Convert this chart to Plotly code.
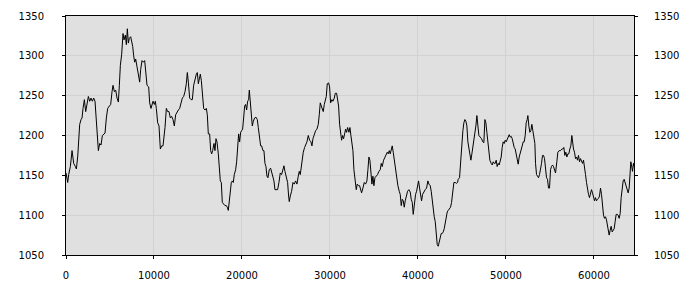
import plotly.graph_objects as go

positions = [
    0, 193, 307, 496, 686, 875, 1064, 1178, 1330, 1443, 1557, 1708, 1822, 1935, 2087, 2238, 2390, 2541, 2693, 2844,
    2996, 3147, 3299, 3450, 3564, 3677, 3829, 3980, 4132, 4283, 4435, 4586, 4738, 4927, 5079, 5230, 5344, 5495, 5647,
    5798, 5950, 6063, 6177, 6328, 6480, 6593, 6745, 6859, 6972, 7086, 7199, 7351, 7464, 7578, 7692, 7805, 7919, 8033,
    8146, 8260, 8373, 8487, 8638, 8790, 8941, 9055, 9206, 9396, 9509, 9661, 9774, 9888, 10040, 10153, 10267, 10418,
    10570, 10721, 10873, 11024,
    11251, 11402, 11554, 11705, 11857, 12008, 12160, 12311, 12463, 12614, 12766, 12917, 13068, 13220, 13371, 13523,
    13674, 13788, 13902, 14053, 14205, 14356, 14508, 14659, 14810, 14924, 15038, 15151, 15265, 15379, 15492, 15644,
    15795, 15947, 16060, 16174, 16325, 16439, 16553, 16666, 16818, 16931, 17045, 17158, 17310, 17423, 17537, 17651,
    17764, 17916, 18067, 18219, 18332, 18446, 18560, 18673, 18787, 18900, 19014, 19128, 19279, 19393, 19506, 19620,
    19734, 19847, 19961, 20074, 20188, 20302, 20415, 20529, 20642, 20756, 20832, 20945, 21059, 21173, 21286, 21438,
    21589, 21741, 21854, 22006, 22119, 22233,
    22383, 22496, 22610, 22724, 22837, 22951, 23102, 23254, 23367, 23519, 23632, 23746, 23898, 24049, 24200, 24352,
    24503, 24655, 24768, 24882, 25034, 25185, 25299, 25374, 25488, 25640, 25791, 25942, 26094, 26245, 26397, 26510,
    26624, 26738, 26851, 26965, 27116, 27268, 27382, 27533, 27685, 27836, 27950, 28063, 28215, 28366, 28518, 28669,
    28783, 28896, 29010, 29124, 29237, 29351, 29464, 29578, 29692, 29843, 29957, 30070, 30222, 30335, 30487, 30601,
    30752, 30866, 30979, 31093, 31206, 31320, 31434, 31547, 31661, 31774, 31888, 32002, 32153, 32267, 32380, 32494,
    32608, 32721, 32873, 32986, 33100, 33251, 33365,
    33478, 33591, 33743, 33894, 34046, 34197, 34311, 34425, 34538, 34652, 34765, 34879, 34993, 35106, 35258, 35409,
    35561, 35712, 35826, 35939, 36091, 36242, 36394, 36507, 36621, 36735, 36848, 36962, 37075, 37189, 37303, 37416,
    37568, 37719, 37871, 37984, 38098, 38212, 38325, 38439, 38552, 38666, 38818, 38969, 39120, 39234, 39348, 39461,
    39575, 39726, 39840, 39954, 40067, 40181, 40294, 40408, 40522, 40673, 40824, 40976, 41127, 41241, 41393, 41506,
    41620, 41733, 41847, 41961, 42074, 42188, 42302, 42415, 42529, 42642, 42756, 42870, 42983, 43097, 43210, 43324,
    43438, 43589, 43703, 43816, 43930, 44081, 44233, 44384, 44498,
    44573, 44724, 44838, 44952, 45103, 45217, 45330, 45444, 45558, 45671, 45785, 45898, 46012, 46126, 46239, 46353,
    46466, 46580, 46694, 46807, 46921, 47072, 47224, 47375, 47489, 47603, 47716, 47830, 47943, 48057, 48171, 48322,
    48436, 48549, 48663, 48777, 48890, 49004, 49117, 49231, 49345, 49458, 49572, 49685, 49799, 49913, 50026, 50140,
    50253, 50367, 50481, 50594, 50708, 50822, 50935, 51049, 51162, 51276, 51390, 51503, 51617, 51730, 51844, 51958,
    52071, 52185, 52298, 52412, 52488, 52601, 52715, 52829, 52942, 53056, 53169, 53283, 53359, 53472, 53586, 53700,
    53813, 53927, 54040, 54154, 54268, 54381, 54495, 54608, 54722, 54836, 54949, 55063, 55176, 55290, 55404, 55517,
    55631,
    55782, 55895, 56047, 56198, 56350, 56463, 56577, 56691, 56804, 56918, 57032, 57145, 57259, 57372, 57486, 57562,
    57675, 57789, 57903, 58016, 58130, 58243, 58357, 58471, 58584, 58698, 58811, 58925, 59039, 59152, 59266, 59379,
    59493, 59607, 59720, 59834, 59948, 60061, 60175, 60288, 60402, 60516, 60629, 60743, 60856, 60970, 61084, 61197,
    61311, 61424, 61538, 61652, 61727, 61841, 61955, 62068, 62182, 62295, 62409, 62523, 62636, 62750, 62864, 62977,
    63091, 63204, 63318, 63432, 63545, 63659, 63773, 63886, 64000, 64113, 64189, 64265, 64378, 64492, 64540,
]

levels = [
    1153, 1141, 1151, 1161, 1181, 1165, 1161, 1158, 1173, 1198, 1214, 1220, 1222, 1234, 1245, 1230, 1239, 1249, 1243, 1247,
    1243, 1247, 1243, 1218, 1208, 1181, 1190, 1188, 1200, 1202, 1203, 1222, 1234, 1237, 1239, 1255, 1263, 1255, 1257,
    1247, 1242, 1263, 1288, 1302, 1328, 1320, 1326, 1314, 1334, 1316, 1322, 1324, 1318, 1312, 1300, 1292, 1296, 1288,
    1279, 1271, 1267, 1283, 1294, 1292, 1294, 1281, 1263, 1261, 1241, 1234, 1239, 1243, 1239, 1243, 1234, 1216,
    1212, 1183, 1187, 1187,
    1210, 1234, 1230, 1230, 1222, 1224, 1220, 1212, 1226, 1230, 1232, 1234, 1243, 1247, 1249, 1255,
    1265, 1279, 1267, 1247, 1245, 1245, 1263, 1271, 1277, 1279, 1265, 1271, 1277, 1269, 1255, 1234,
    1232, 1234, 1226, 1202, 1202, 1181, 1177, 1181, 1190, 1181, 1196, 1192, 1177, 1161, 1143, 1141,
    1116, 1114, 1112, 1112, 1110, 1106, 1120, 1130, 1141, 1143, 1141, 1151, 1157, 1167, 1181, 1202,
    1192, 1204, 1206, 1208, 1222, 1237, 1239, 1232, 1243, 1245, 1257, 1239, 1222, 1212, 1218, 1222,
    1223, 1220, 1210, 1198, 1187, 1187,
    1181, 1181, 1165, 1161, 1149, 1147, 1157, 1159, 1153, 1149, 1143, 1132, 1132, 1132, 1141, 1153,
    1151, 1159, 1162, 1155, 1149, 1141, 1124, 1117, 1124, 1130, 1141, 1139, 1143, 1139, 1149, 1155,
    1151, 1161, 1173, 1179, 1185, 1190, 1192, 1200, 1194, 1192, 1187, 1196, 1202, 1206, 1208, 1214,
    1226, 1241, 1237, 1234, 1230, 1239, 1245, 1249, 1265, 1266, 1261, 1241, 1245, 1243, 1247, 1253,
    1253, 1247, 1237, 1214, 1202, 1194, 1200, 1196, 1202, 1208, 1204, 1210, 1204, 1210, 1200, 1190,
    1181, 1157, 1145, 1132, 1139, 1137, 1137,
    1132, 1128, 1134, 1141, 1139, 1143, 1157, 1173, 1169, 1149, 1139, 1149, 1137, 1147, 1149, 1151,
    1155, 1157, 1165, 1161, 1169, 1173, 1175, 1179, 1177, 1181, 1177, 1183, 1187, 1179, 1169, 1161,
    1143, 1137, 1130, 1126, 1112, 1120, 1118, 1110, 1118, 1124, 1130, 1132, 1129, 1120, 1116, 1101,
    1114, 1126, 1130, 1137, 1143, 1134, 1124, 1118, 1126, 1130, 1132, 1134, 1143, 1139, 1137, 1130,
    1118, 1108, 1098, 1092, 1076, 1063, 1061, 1066, 1071, 1077, 1077, 1079, 1083, 1092, 1100, 1104,
    1106, 1108, 1110, 1116, 1130, 1141, 1141, 1140, 1141,
    1145, 1147, 1169, 1190, 1206, 1216, 1220, 1218, 1212, 1192, 1185, 1177, 1169, 1177, 1185, 1194,
    1200, 1212, 1225, 1206, 1200, 1198, 1196, 1192, 1191, 1220, 1216, 1204, 1192, 1181, 1169, 1165,
    1163, 1167, 1165, 1165, 1169, 1161, 1165, 1163, 1167, 1173, 1185, 1192, 1190, 1194, 1192, 1196,
    1200, 1201, 1198, 1199, 1196, 1190, 1185, 1183, 1177, 1171, 1164, 1173, 1179, 1185, 1187, 1192,
    1192, 1200, 1216, 1220, 1225, 1212, 1204, 1206, 1214, 1206, 1198, 1190, 1165, 1151, 1149, 1147,
    1151, 1157, 1165, 1175, 1175, 1171, 1157, 1147, 1145, 1134, 1134, 1157, 1161, 1163, 1161, 1155,
    1153,
    1167, 1179, 1181, 1181, 1183, 1183, 1185, 1175, 1179, 1173, 1177, 1177, 1183, 1187, 1200, 1190,
    1183, 1179, 1171, 1173, 1169, 1175, 1167, 1171, 1167, 1165, 1169, 1155, 1151, 1141, 1130, 1126,
    1122, 1130, 1132, 1128, 1120, 1118, 1122, 1118, 1120, 1121, 1124, 1134, 1126, 1110, 1100, 1096,
    1098, 1094, 1088, 1083, 1075, 1081, 1086, 1079, 1081, 1083, 1092, 1101, 1101, 1100, 1096, 1102,
    1122, 1132, 1143, 1145, 1141, 1137, 1132, 1128, 1134, 1157, 1167, 1163, 1155, 1165, 1161,
]

x_ticks = [0, 10000, 20000, 30000, 40000, 50000, 60000]
y_ticks = [1050, 1100, 1150, 1200, 1250, 1300, 1350]
x_range = [0, 64550]
y_range = [1050, 1350]

fig = go.Figure()
fig.add_trace(go.Scatter(x=positions, y=levels, mode="lines",
                         line=dict(color="black", width=1), showlegend=False))
fig.add_trace(go.Scatter(x=positions, y=levels, mode="lines", yaxis="y2",
                         line=dict(color="black", width=1), opacity=0,
                         showlegend=False, hoverinfo="skip"))

font = dict(family="DejaVu Sans", size=10, color="black")
grid = "#d2d2d2"

fig.update_layout(
    width=700, height=300,
    margin=dict(l=66, r=66, t=10, b=45),
    paper_bgcolor="white", plot_bgcolor="#e0e0e0",
    font=font,
    xaxis=dict(range=x_range, tickvals=x_ticks, ticktext=[str(v) for v in x_ticks],
               showgrid=True, gridcolor=grid, gridwidth=1, zeroline=False,
               showline=True, linecolor="black", linewidth=1, mirror=True,
               ticks="outside", ticklen=3, tickcolor="black", ticklabelstandoff=8),
    yaxis=dict(range=y_range, tickvals=y_ticks, ticktext=[str(v) for v in y_ticks],
               showgrid=True, gridcolor=grid, gridwidth=1, zeroline=False,
               showline=True, linecolor="black", linewidth=1,
               ticks="outside", ticklen=3, tickcolor="black", ticklabelstandoff=16),
    yaxis2=dict(range=y_range, tickvals=y_ticks, ticktext=[str(v) for v in y_ticks],
                overlaying="y", side="right", showgrid=False, zeroline=False,
                showline=True, linecolor="black", linewidth=1,
                ticks="outside", ticklen=3, tickcolor="black", ticklabelstandoff=14),
)

fig.write_html("out.html")
